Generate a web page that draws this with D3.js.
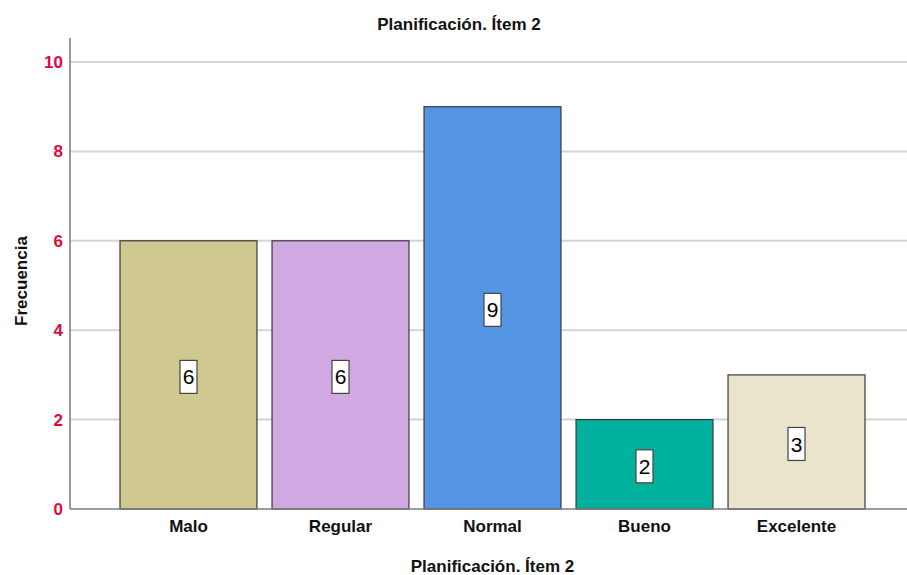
<!DOCTYPE html>
<html>
<head>
<meta charset="utf-8">
<script src="https://cdn.jsdelivr.net/npm/d3@7"></script>
<style>
  html, body { margin: 0; padding: 0; background: #fff; }
  svg { display: block; font-family: "Liberation Sans", Arial, sans-serif; }
</style>
</head>
<body>
<svg id="chart" width="907" height="575"></svg>
<script>
// Frequency table for "Planificación. Ítem 2"
const categories = ["Malo", "Regular", "Normal", "Bueno", "Excelente"];
const frequencies = [6, 6, 9, 2, 3];
const barColors = ["#cfc98f", "#d0a9e3", "#5495e3", "#00b19d", "#ebe4cd"];
const yTicks = [0, 2, 4, 6, 8, 10];
const chartTitle = "Planificación. Ítem 2";
const xTitle = "Planificación. Ítem 2";
const yTitle = "Frecuencia";

const svg = d3.select("#chart");
const W = 907, H = 575;
const plot = { left: 70, right: 915, top: 38, bottom: 509 };

const x = d3.scaleBand()
  .domain(categories)
  .range([plot.left, plot.right])
  .paddingInner(0.099)
  .paddingOuter(0.329);

const y = d3.scaleLinear()
  .domain([0, 10])
  .range([plot.bottom, 62]);

// horizontal gridlines
svg.append("g")
  .selectAll("line")
  .data(yTicks.filter(d => d > 0))
  .join("line")
  .attr("x1", plot.left).attr("x2", W)
  .attr("y1", d => y(d)).attr("y2", d => y(d))
  .attr("stroke", "#d4d4d4")
  .attr("stroke-width", 2);

// bars
const rows = categories.map((c, i) => ({ cat: c, val: frequencies[i], color: barColors[i] }));
svg.append("g")
  .selectAll("rect")
  .data(rows)
  .join("rect")
  .attr("x", d => x(d.cat))
  .attr("y", d => y(d.val))
  .attr("width", x.bandwidth())
  .attr("height", d => y(0) - y(d.val))
  .attr("fill", d => d.color)
  .attr("stroke", "#3a3a3a")
  .attr("stroke-width", 1.2);

// value labels in boxes at mid-height of each bar
const lab = svg.append("g")
  .selectAll("g")
  .data(rows)
  .join("g")
  .attr("transform", d => `translate(${x(d.cat) + x.bandwidth() / 2},${(y(d.val) + y(0)) / 2 + 2})`);
lab.append("rect")
  .attr("x", -8.5).attr("y", -16.5)
  .attr("width", 17).attr("height", 33)
  .attr("fill", "#fff")
  .attr("stroke", "#444")
  .attr("stroke-width", 1.2);
lab.append("text")
  .attr("text-anchor", "middle")
  .attr("dy", "0.36em")
  .attr("font-size", 21)
  .attr("fill", "#000")
  .text(d => d.val);

// y axis
const yAxis = svg.append("g")
  .attr("transform", `translate(${plot.left},0)`)
  .call(d3.axisLeft(y).tickValues(yTicks).tickSize(0).tickPadding(7).tickFormat(d3.format("d")));
yAxis.select(".domain").remove();
yAxis.selectAll("text")
  .attr("font-size", 17)
  .attr("font-weight", "bold")
  .attr("fill", "#e0083f")
  .attr("font-family", "Liberation Sans, Arial, sans-serif");
svg.append("line")
  .attr("x1", plot.left).attr("x2", plot.left)
  .attr("y1", plot.top).attr("y2", plot.bottom)
  .attr("stroke", "#7a7a7a").attr("stroke-width", 1.5);

// x axis
const xAxis = svg.append("g")
  .attr("transform", `translate(0,${plot.bottom})`)
  .call(d3.axisBottom(x).tickSize(0).tickPadding(11));
xAxis.select(".domain").remove();
xAxis.selectAll("text")
  .attr("font-size", 17)
  .attr("font-weight", "bold")
  .attr("fill", "#111")
  .attr("font-family", "Liberation Sans, Arial, sans-serif");
svg.append("line")
  .attr("x1", plot.left).attr("x2", W)
  .attr("y1", plot.bottom).attr("y2", plot.bottom)
  .attr("stroke", "#7a7a7a").attr("stroke-width", 1.5);

// titles
svg.append("text")
  .attr("x", 459).attr("y", 30)
  .attr("text-anchor", "middle")
  .attr("font-size", 17).attr("font-weight", "bold").attr("fill", "#111")
  .text(chartTitle);

svg.append("text")
  .attr("x", (plot.left + plot.right) / 2).attr("y", 572)
  .attr("text-anchor", "middle")
  .attr("font-size", 17).attr("font-weight", "bold").attr("fill", "#111")
  .text(xTitle);

svg.append("text")
  .attr("transform", "translate(27,281) rotate(-90)")
  .attr("text-anchor", "middle")
  .attr("font-size", 17).attr("font-weight", "bold").attr("fill", "#111")
  .text(yTitle);
</script>
</body>
</html>
